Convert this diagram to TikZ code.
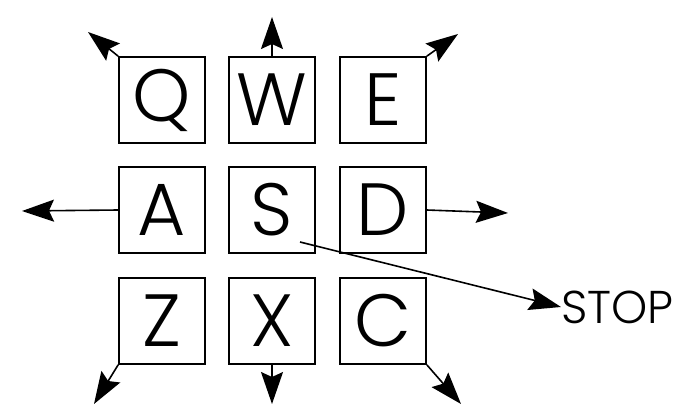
\documentclass[tikz,border=0pt]{standalone}
\usepackage{fontspec}
\setmainfont{Poppins Light}
\usetikzlibrary{arrows.meta}

\begin{document}
\begin{tikzpicture}[x=1pt,y=-1pt]
	\tikzset{key/.style={draw, line width=1.7pt, minimum size=86pt, inner sep=0pt, font=\fontsize{74}{74}\selectfont},
		dir/.style={line width=1.6pt, -{Stealth[length=32pt,width=22pt,inset=5pt]}}}
	\useasboundingbox (0,0) rectangle (679,404);
	% keys
	\node [key] (Q) at (162,100) {Q};
	\node [key] (W) at (272,100) {W};
	\node [key] (E) at (383,100) {E};
	\node [key] (A) at (162,210) {A};
	\node [key] (S) at (272,210) {S};
	\node [key] (D) at (383,210) {D};
	\node [key] (Z) at (162,321) {Z};
	\node [key] (X) at (272,321) {X};
	\node [key] (C) at (383,321) {C};
	% free ends
	\coordinate (qTip) at (88,32);
	\coordinate (wTip) at (272,17);
	\coordinate (eTip) at (458,34);
	\coordinate (aTip) at (22,211);
	\coordinate (dTip) at (508,213);
	\coordinate (zTip) at (94,404);
	\coordinate (xTip) at (272,404);
	\coordinate (cTip) at (461,404);
	\coordinate (sIn) at (300,242);
	\node [anchor=west, inner sep=0pt, font=\fontsize{46}{46}\selectfont] (stop) at (561,307) {STOP};
	% directions
	\draw [dir] (Q.north west) -- (qTip);
	\draw [dir] (W.north) -- (wTip);
	\draw [dir] (E.north east) -- (eTip);
	\draw [dir] (A.west) -- (aTip);
	\draw [dir] (D.east) -- (dTip);
	\draw [dir] (Z.south west) -- (zTip);
	\draw [dir] (X.south) -- (xTip);
	\draw [dir] (C.south east) -- (cTip);
	\draw [dir] (sIn) -- (stop.west);
\end{tikzpicture}
\end{document}
